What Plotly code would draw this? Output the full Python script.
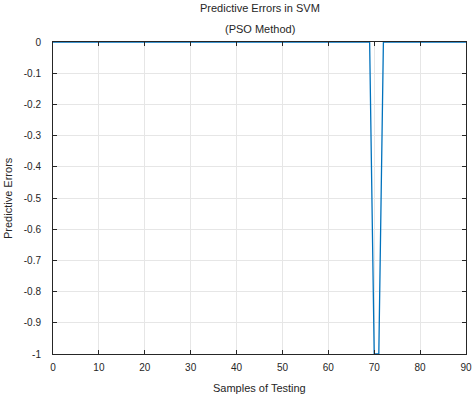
import plotly.graph_objects as go

samples = list(range(0, 91))
errors = [0.0] * 91
dip_samples = [70, 71]
for s in dip_samples:
    errors[s] = -1.0

y_tick_vals = [0, -0.1, -0.2, -0.3, -0.4, -0.5, -0.6, -0.7, -0.8, -0.9, -1]
y_tick_text = ["0", "-0.1", "-0.2", "-0.3", "-0.4", "-0.5", "-0.6", "-0.7", "-0.8", "-0.9", "-1"]
x_tick_vals = [0, 10, 20, 30, 40, 50, 60, 70, 80, 90]

fig = go.Figure()
fig.add_trace(go.Scatter(x=samples, y=errors, mode="lines",
                         line=dict(color="#0072BD", width=1.3), showlegend=False))

FAM = "Liberation Sans, Arial, sans-serif"
font = dict(family=FAM, size=10, color="#262626")
axis_common = dict(showline=True, linecolor="#262626", linewidth=1, mirror="allticks",
                   ticks="inside", ticklen=4, tickcolor="#262626",
                   showgrid=True, gridcolor="#e6e6e6", gridwidth=1, zeroline=False,
                   tickfont=font, automargin=False)

L, R, T, B = 53, 7, 42, 41
plot_h = 395 - T - B
plot_w = 473 - L - R

fig.update_layout(
    width=473, height=395,
    margin=dict(l=L, r=R, t=T, b=B, autoexpand=False),
    paper_bgcolor="white", plot_bgcolor="white",
    font=font,
    xaxis=dict(range=[0, 90], tickvals=x_tick_vals, ticklabelstandoff=4, **axis_common),
    yaxis=dict(range=[-1, 0], tickvals=y_tick_vals, ticktext=y_tick_text, ticklabelstandoff=9, **axis_common),
    annotations=[
        dict(text="Predictive Errors in SVM", x=0.5, y=1 + (T - 8) / plot_h, xref="paper", yref="paper",
             showarrow=False, yanchor="middle", font=dict(family=FAM, size=11, color="#262626")),
        dict(text="(PSO Method)", x=0.5, y=1 + (T - 29) / plot_h, xref="paper", yref="paper",
             showarrow=False, yanchor="middle", font=dict(family=FAM, size=11, color="#262626")),
        dict(text="Samples of Testing", x=0.5, y=-(388 - (395 - B)) / plot_h, xref="paper", yref="paper",
             showarrow=False, yanchor="middle", font=dict(family=FAM, size=11, color="#262626")),
        dict(text="Predictive Errors", x=-(L - 8) / plot_w, y=0.5, xref="paper", yref="paper",
             showarrow=False, xanchor="center", yanchor="middle", textangle=-90,
             font=dict(family=FAM, size=11, color="#262626")),
    ],
)

fig.write_html("out.html", config={"displayModeBar": False},
               post_script="document.body.style.margin='0';document.body.style.overflow='hidden';")
